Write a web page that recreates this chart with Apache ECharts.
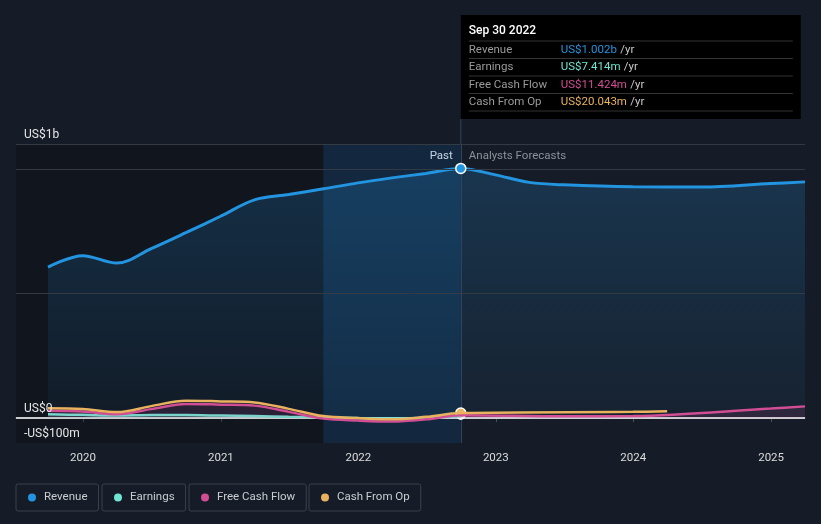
<!DOCTYPE html>
<html>
<head>
<meta charset="utf-8">
<script src="https://cdn.jsdelivr.net/npm/echarts@6/dist/echarts.min.js"></script>
<style>
html,body{margin:0;padding:0;background:#161c27;}
#c{width:821px;height:524px;}
</style>
</head>
<body>
<div id="c"></div>
<script>
// ---- data (US$ millions) ----
const pastDates = ['2019-09-30','2019-12-31','2020-03-31','2020-06-30','2020-09-30','2020-12-31','2021-03-31','2021-06-30','2021-09-30','2021-12-31','2022-03-31','2022-06-30','2022-09-30'];
const revenuePast = [606, 652, 622, 680, 744, 810, 876, 897, 920, 944, 964, 982, 1002];
const earningsPast = [15, 13, 10, 12, 12, 10, 8, 5, 3, 0, -2, 2, 7.414];
const fcfPast = [29, 26, 15, 36, 57, 54, 50, 25, -2, -10, -14, -5, 11.424];
const cfoPast = [39, 36, 24, 48, 70, 67, 63, 37, 8, 0, -5, 5, 20.043];

const revForecastDates = ['2022-12-31','2023-03-31','2023-06-30','2023-12-31','2024-06-30','2024-12-31','2025-04-01'];
const revenueForecast = [976, 946, 936, 928, 927, 941, 948];
const fcfForecastDates = ['2023-06-30','2023-12-31','2024-12-31','2025-04-01'];
const fcfForecast = [7, 8, 38, 47];
const cfoForecastDates = ['2023-12-31','2024-03-31'];
const cfoForecast = [25, 27];

const xMin = '2019-07-07', xMax = '2025-04-01';
const pastStart = '2021-09-30', nowDate = '2022-09-30';
const yMin = -100, yMax = 1100, yStep = 100;
const yTickLabels = {'-100': '-US$100m', '0': 'US$0', '1100': 'US$1b'};
const gridLevels = [1100, 1000, 500];

const tipTitle = 'Sep 30 2022';
const tipRows = [
  ['Revenue', 'US$1.002b', 'rev'],
  ['Earnings', 'US$7.414m', 'ear'],
  ['Free Cash Flow', 'US$11.424m', 'fcf'],
  ['Cash From Op', 'US$20.043m', 'cfo']
];

const C = {rev:'#2394df', ear:'#6ee6d2', fcf:'#d14d94', cfo:'#e9b25f'};
const FONT = 'Roboto, "Noto Sans", sans-serif';

function pts(dates, vals) {
  return dates.map((d, i) => [d, vals[i]]);
}
function nowPoint(vals, color, size) {
  return {
    symbol: 'circle', symbolSize: size, silent: true, label: {show: false},
    itemStyle: {color: color, borderColor: '#ffffff', borderWidth: 1.5},
    data: [{coord: [nowDate, vals[vals.length - 1]]}]
  };
}

const revData = pts(pastDates, revenuePast).concat(pts(revForecastDates, revenueForecast));
const fcfData = pts(pastDates, fcfPast).concat(pts(fcfForecastDates, fcfForecast));
const cfoData = pts(pastDates, cfoPast).concat(pts(cfoForecastDates, cfoForecast));
const earData = pts(pastDates, earningsPast);

const chart = echarts.init(document.getElementById('c'), null, {renderer: 'canvas'});

function legend(name, left) {
  return {
    data: [name], left: left, top: 484, orient: 'horizontal',
    icon: 'circle', itemWidth: 8, itemHeight: 8,
    padding: [7, 11, 7, 12],
    borderColor: '#3b414b', borderWidth: 1, borderRadius: 2,
    selectedMode: false,
    textStyle: {color: '#c9ccd1', fontSize: 11.5, fontFamily: FONT, lineHeight: 13, padding: [0, 0, 0, 3]}
  };
}

const option = {
  backgroundColor: '#161c27',
  animation: false,
  color: [C.rev, C.ear, C.fcf, C.cfo],
  grid: {left: 16, right: 16, top: 144, bottom: 81, containLabel: false},
  legend: [legend('Revenue', 16), legend('Earnings', 102), legend('Free Cash Flow', 189), legend('Cash From Op', 309)],
  xAxis: {
    type: 'time', min: xMin, max: xMax,
    minInterval: 3600 * 24 * 1000 * 365,
    axisLine: {lineStyle: {color: '#4a4f58', width: 1.5}},
    axisTick: {show: true, length: 4, lineStyle: {color: '#4a4f58'}},
    axisLabel: {
      color: '#dcdcdc', fontSize: 11.5, fontFamily: FONT, margin: 9,
      formatter: function (v) { const d = new Date(v); return (d.getMonth() === 0 && d.getDate() === 1) ? String(d.getFullYear()) : ''; }
    },
    splitLine: {show: false}
  },
  yAxis: {
    type: 'value', min: yMin, max: yMax, interval: yStep, zlevel: 1, z: 20,
    axisLine: {show: false}, axisTick: {show: false}, splitLine: {show: false},
    axisLabel: {
      inside: true, margin: 8, color: '#e6e6e6', fontSize: 12, fontFamily: FONT,
      verticalAlign: 'bottom', lineHeight: 14, padding: [0, 0, 2, 0],
      showMinLabel: true, showMaxLabel: true,
      formatter: function (v) { return yTickLabels[String(Math.round(v))] || ''; }
    }
  },
  series: [
    {
      name: 'bg', type: 'line', data: [], z: 1, silent: true,
      markArea: {
        silent: true,
        data: [
          [{xAxis: xMin, itemStyle: {color: 'rgba(0,0,0,0.22)'}}, {xAxis: pastStart}],
          [{xAxis: pastStart, itemStyle: {color: 'rgba(10,75,135,0.25)'}}, {xAxis: nowDate}]
        ]
      },
      markLine: {
        silent: true, symbol: 'none', label: {show: false},
        data: gridLevels.map(v => ({yAxis: v, lineStyle: {color: '#343a44', width: 1, type: 'solid'}}))
          .concat([{xAxis: nowDate, lineStyle: {color: '#31445a', width: 1, type: 'solid'}}])
      }
    },
    {
      name: 'Revenue', type: 'line', data: revData, z: 3, smooth: 0.35,
      showSymbol: false,
      lineStyle: {color: C.rev, width: 3},
      itemStyle: {color: C.rev},
      areaStyle: {
        color: new echarts.graphic.LinearGradient(0, 0, 0, 1, [
          {offset: 0, color: 'rgba(35,148,223,0.30)'},
          {offset: 1, color: 'rgba(35,148,223,0.07)'}
        ])
      },
      markPoint: nowPoint(revenuePast, C.rev, 10)
    },
    {
      name: 'bgzero', type: 'line', data: [], z: 4, silent: true,
      markLine: {silent: true, symbol: 'none', label: {show: false},
        data: [{yAxis: 0, lineStyle: {color: '#ffffff', width: 1.5, type: 'solid'}}]}
    },
    {
      name: 'Earnings', type: 'line', data: earData, z: 5, smooth: 0.35,
      showSymbol: false, lineStyle: {color: C.ear, width: 2.5}, itemStyle: {color: C.ear},
      areaStyle: {color: 'rgba(110,230,210,0.18)'}
    },
    {
      name: 'Free Cash Flow', type: 'line', data: fcfData, z: 6, smooth: 0.35,
      showSymbol: false, lineStyle: {color: C.fcf, width: 2.5}, itemStyle: {color: C.fcf},
      areaStyle: {color: 'rgba(209,77,148,0.18)'},
      markPoint: nowPoint(fcfPast, C.fcf, 8)
    },
    {
      name: 'Cash From Op', type: 'line', data: cfoData, z: 7, smooth: 0.35,
      showSymbol: false, lineStyle: {color: C.cfo, width: 2.5}, itemStyle: {color: C.cfo},
      markPoint: nowPoint(cfoPast, C.cfo, 10)
    }
  ]
};
chart.setOption(option);

// decorations placed through the library's own scales
const nowX = chart.convertToPixel({xAxisIndex: 0}, nowDate);
const topY = chart.convertToPixel({yAxisIndex: 0}, yMax);
const tipTop = 15, tipH = 104, tipW = 340, rowH = 17.5;
const els = [
  {type: 'line', shape: {x1: nowX, y1: tipTop + tipH, x2: nowX, y2: topY}, style: {stroke: '#31445a', lineWidth: 1}, silent: true},
  {type: 'rect', shape: {x: nowX, y: tipTop, width: tipW, height: tipH}, style: {fill: '#000000'}, silent: true},
  {type: 'text', x: nowX + 8, y: tipTop + 16, style: {text: tipTitle, fill: '#ffffff', font: '500 12px ' + FONT, verticalAlign: 'middle'}},
  {type: 'text', x: nowX - 8, y: topY + 12, style: {text: 'Past', fill: '#ffffff', font: '11.5px ' + FONT, align: 'right', verticalAlign: 'middle'}},
  {type: 'text', x: nowX + 8, y: topY + 12, style: {text: 'Analysts Forecasts', fill: '#8b9099', font: '11.5px ' + FONT, verticalAlign: 'middle'}}
];
for (let i = 0; i <= tipRows.length; i++) {
  const ly = tipTop + 26 + i * rowH;
  els.push({type: 'line', shape: {x1: nowX + 8, y1: ly, x2: nowX + tipW - 8, y2: ly}, style: {stroke: '#333333', lineWidth: 1}, silent: true});
}
tipRows.forEach((r, i) => {
  const cy = tipTop + 26 + i * rowH + rowH / 2;
  els.push({type: 'text', x: nowX + 8, y: cy, style: {text: r[0], fill: '#9a9a9a', font: '11.5px ' + FONT, verticalAlign: 'middle'}});
  els.push({type: 'text', x: nowX + 100, y: cy, style: {
    text: '{v|' + r[1] + '} {u|/yr}', verticalAlign: 'middle',
    rich: {v: {fill: C[r[2]], font: '11.5px ' + FONT}, u: {fill: '#c8c8c8', font: '11.5px ' + FONT}}
  }});
});
chart.setOption({graphic: els});
</script>
</body>
</html>
